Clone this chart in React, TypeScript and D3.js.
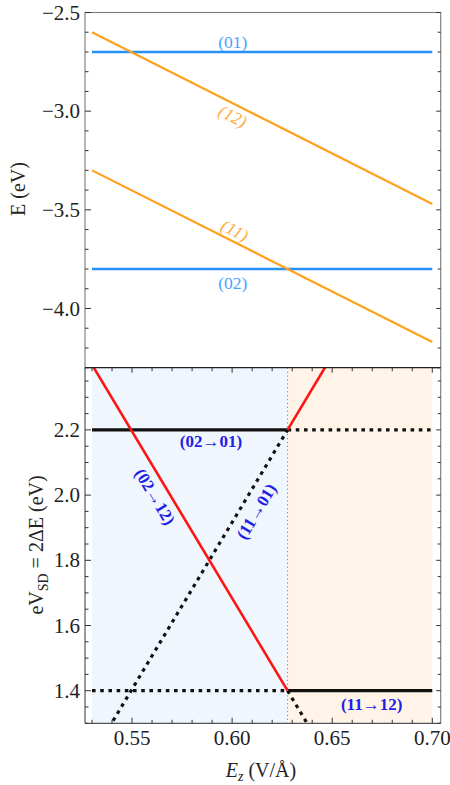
import React from 'react';
import * as d3 from 'd3';

// ---- data ----
const ez = [0.53, 0.70];
const E01 = [-2.70, -2.70];
const E02 = [-3.80, -3.80];
const E11 = [-3.30, -4.17];
const E12 = [-2.60, -3.47];

const topTicks = [-2.5, -3.0, -3.5, -4.0];
const topTickLabels = ['−2.5', '−3.0', '−3.5', '−4.0'];
const botTicks = [1.4, 1.6, 1.8, 2.0, 2.2];
const botTickLabels = ['1.4', '1.6', '1.8', '2.0', '2.2'];
const xTicks = [0.55, 0.60, 0.65, 0.70];
const xTickLabels = ['0.55', '0.60', '0.65', '0.70'];

const W = 450, H = 785;
const L = 85, R = 440.7;
const topY0 = 12.5, midY = 367.7, botY1 = 723.3;

const FONT = "'Liberation Serif', 'Times New Roman', serif";
const BLUE = '#2590f5';
const BLUE_LBL = '#4aa3fa';
const ORANGE = '#ffa11c';
const ORANGE_LBL = '#ffab40';
const RED = '#ff1414';
const LBL = '#1f1fe6';

const x = d3.scaleLinear().domain([0.5265, 0.7042]).range([L, R]);
const yT = d3.scaleLinear().domain([-4.3, -2.5]).range([midY, topY0]);
const yB = d3.scaleLinear().domain([1.3, 2.3908]).range([botY1, midY]);

const interp = (arr: number[], v: number) =>
  arr[0] + ((arr[1] - arr[0]) * (v - ez[0])) / (ez[1] - ez[0]);

// crossing of (11) and (02)
const slope = (a: number[]) => (a[1] - a[0]) / (ez[1] - ez[0]);
const xc = ez[0] + (E11[0] - E02[0]) / (slope(E02) - slope(E11));

const diff2 = (a: number[], b: number[]) => a.map((v, i) => 2 * (v - b[i]));
const t0201 = diff2(E01, E02);
const t1112 = diff2(E12, E11);
const t0212 = diff2(E12, E02);
const t1101 = diff2(E01, E11);

function seg(arr: number[], x0: number, x1: number, ys: d3.ScaleLinear<number, number>) {
  const line = d3.line<number>().x((v) => x(v)).y((v) => ys(interp(arr, v)));
  return line([x0, x1]) || '';
}

function angleOf(arr: number[], ys: d3.ScaleLinear<number, number>) {
  const dx = x(ez[1]) - x(ez[0]);
  const dy = ys(arr[1]) - ys(arr[0]);
  return (Math.atan2(dy, dx) * 180) / Math.PI;
}

const topLabels = [
  { text: '(01)', arr: E01, at: 0.6003, dx: 0, dy: -10, italic: false, color: BLUE_LBL, rot: false },
  { text: '(02)', arr: E02, at: 0.6003, dx: 0, dy: 13.5, italic: false, color: BLUE_LBL, rot: false },
  { text: '(12)', arr: E12, at: 0.6003, dx: 0, dy: 13, italic: true, color: ORANGE_LBL, rot: true },
  { text: '(11)', arr: E11, at: 0.6013, dx: 0, dy: -12, italic: true, color: ORANGE_LBL, rot: true },
];

const botLabels = [
  { text: '(02→01)', arr: t0201, at: 0.5894, dx: 0, dy: 12, rot: false },
  { text: '(02→12)', arr: t0212, at: 0.5696, dx: -16.5, dy: 0, rot: true },
  { text: '(11→01)', arr: t1101, at: 0.6032, dx: 18, dy: 0, rot: true },
  { text: '(11→12)', arr: t1112, at: 0.6697, dx: 0, dy: 14, rot: false },
];

export default function App() {
  const topMinor = d3.range(-4.3, -2.49, 0.1);
  const botMinor = d3.range(1.3, 2.391, 0.05);
  const xMinor = d3.range(0.53, 0.7001, 0.01);
  const isMajor = (v: number, majors: number[]) => majors.some((m) => Math.abs(m - v) < 1e-6);

  const dotted = { stroke: '#111', strokeWidth: 3.2, strokeDasharray: '3.6 4.6', fill: 'none' };
  const solid = { stroke: '#111', strokeWidth: 3.2, fill: 'none' };

  return (
    <svg width={W} height={H} style={{ position: 'absolute', left: 0, top: 0, background: '#fff' }} fontFamily={FONT}>
      <defs>
        <clipPath id="clipTop">
          <rect x={L} y={topY0} width={R - L} height={midY - topY0} />
        </clipPath>
        <clipPath id="clipBot">
          <rect x={L} y={midY} width={R - L} height={botY1 - midY} />
        </clipPath>
      </defs>

      {/* ---------- TOP PANEL ---------- */}
      <g clipPath="url(#clipTop)">
        <path d={seg(E01, ez[0], ez[1], yT)} stroke={BLUE} strokeWidth={2.4} fill="none" />
        <path d={seg(E02, ez[0], ez[1], yT)} stroke={BLUE} strokeWidth={2.4} fill="none" />
        <path d={seg(E12, ez[0], ez[1], yT)} stroke={ORANGE} strokeWidth={2.2} fill="none" />
        <path d={seg(E11, ez[0], ez[1], yT)} stroke={ORANGE} strokeWidth={2.2} fill="none" />
      </g>
      {topLabels.map((lb, i) => {
        const cx = x(lb.at) + lb.dx;
        const cy = yT(interp(lb.arr, lb.at)) + lb.dy;
        const a = lb.rot ? angleOf(lb.arr, yT) : 0;
        return (
          <text key={i} transform={`translate(${cx},${cy}) rotate(${a})`} textAnchor="middle"
            dominantBaseline="central" fontSize={17.5} fill={lb.color} fontStyle={lb.italic ? 'italic' : 'normal'}>
            {lb.text}
          </text>
        );
      })}
      {/* frame top */}
      <rect x={L} y={topY0} width={R - L} height={midY - topY0} fill="none" stroke="#7a7a7a" strokeWidth={1.1} />
      {topMinor.map((v, i) => {
        const maj = topTicks.some((m) => Math.abs(m - v) < 1e-6);
        const yy = yT(v);
        return (
          <g key={i} stroke="#333" strokeWidth={1}>
            <line x1={L} x2={L + (maj ? 6 : 3.5)} y1={yy} y2={yy} />
            <line x1={R} x2={R - (maj ? 4.5 : 3)} y1={yy} y2={yy} />
          </g>
        );
      })}
      {topTicks.map((v, i) => (
        <text key={i} x={L - 5} y={yT(v) + 7} textAnchor="end" fontSize={21} fill="#222">
          {topTickLabels[i]}
        </text>
      ))}
      <text transform={`translate(25,189) rotate(-90)`} textAnchor="middle" fontSize={20} fill="#222">
        E (eV)
      </text>

      {/* ---------- BOTTOM PANEL ---------- */}
      <rect x={x(ez[0])} y={midY} width={x(xc) - x(ez[0])} height={botY1 - midY} fill="#f0f6fe" />
      <rect x={x(xc)} y={midY} width={x(ez[1]) - x(xc)} height={botY1 - midY} fill="#fff4e7" />
      <line x1={x(xc)} x2={x(xc)} y1={midY} y2={botY1} stroke="#888" strokeWidth={1} strokeDasharray="1.3 2.6" />
      <g clipPath="url(#clipBot)">
        <path d={seg(t0201, xc, ez[1], yB)} {...dotted} />
        <path d={seg(t1112, ez[0], xc, yB)} {...dotted} />
        <path d={seg(t1101, ez[0], xc, yB)} {...dotted} />
        <path d={seg(t0212, xc, ez[1], yB)} {...dotted} />
        <path d={seg(t0201, ez[0], xc, yB)} {...solid} />
        <path d={seg(t1112, xc, ez[1], yB)} {...solid} />
        <path d={seg(t0212, ez[0], xc, yB)} stroke={RED} strokeWidth={2.6} fill="none" />
        <path d={seg(t1101, xc, ez[1], yB)} stroke={RED} strokeWidth={2.6} fill="none" />
      </g>
      {botLabels.map((lb, i) => {
        const cx = x(lb.at) + lb.dx;
        const cy = yB(interp(lb.arr, lb.at)) + lb.dy;
        const a = lb.rot ? angleOf(lb.arr, yB) : 0;
        return (
          <text key={i} transform={`translate(${cx},${cy}) rotate(${a})`} textAnchor="middle"
            dominantBaseline="central" fontSize={17} fontWeight="bold" fill={LBL}>
            {lb.text}
          </text>
        );
      })}
      {/* frame bottom */}
      <line x1={L} x2={L} y1={midY} y2={botY1} stroke="#555" strokeWidth={1.2} />
      <line x1={R} x2={R} y1={midY} y2={botY1} stroke="#777" strokeWidth={1.1} />
      <line x1={L} x2={R} y1={botY1} y2={botY1} stroke="#555" strokeWidth={1.2} />
      <line x1={L} x2={R} y1={midY} y2={midY} stroke="#222" strokeWidth={1.3} />
      {botMinor.map((v, i) => {
        const maj = isMajor(v, botTicks);
        const yy = yB(v);
        return (
          <g key={i} stroke="#333" strokeWidth={1}>
            <line x1={L} x2={L + (maj ? 6 : 3.5)} y1={yy} y2={yy} />
            <line x1={R} x2={R - (maj ? 4.5 : 3)} y1={yy} y2={yy} />
          </g>
        );
      })}
      {xMinor.map((v, i) => {
        const maj = isMajor(v, xTicks);
        const xx = x(v);
        return (
          <g key={i} stroke="#333" strokeWidth={1}>
            <line x1={xx} x2={xx} y1={botY1} y2={botY1 - (maj ? 5.5 : 3.5)} />
            <line x1={xx} x2={xx} y1={midY} y2={midY + (maj ? 5 : 3.5)} />
          </g>
        );
      })}
      {botTicks.map((v, i) => (
        <text key={i} x={L - 5} y={yB(v) + 7} textAnchor="end" fontSize={21} fill="#222">
          {botTickLabels[i]}
        </text>
      ))}
      {xTicks.map((v, i) => (
        <text key={i} x={x(v)} y={745} textAnchor="middle" fontSize={21} fill="#222">
          {xTickLabels[i]}
        </text>
      ))}
      <text transform={`translate(43,545) rotate(-90)`} textAnchor="middle" fontSize={20} fill="#222">
        eV<tspan dy={5} fontSize={14}>SD</tspan><tspan dy={-5}> = 2ΔE (eV)</tspan>
      </text>
      <text x={261} y={777} textAnchor="middle" fontSize={20} fill="#222">
        <tspan fontStyle="italic">E</tspan><tspan fontStyle="italic" fontSize={14} dy={4}>z</tspan>
        <tspan dy={-4}> (V/Å)</tspan>
      </text>
    </svg>
  );
}
